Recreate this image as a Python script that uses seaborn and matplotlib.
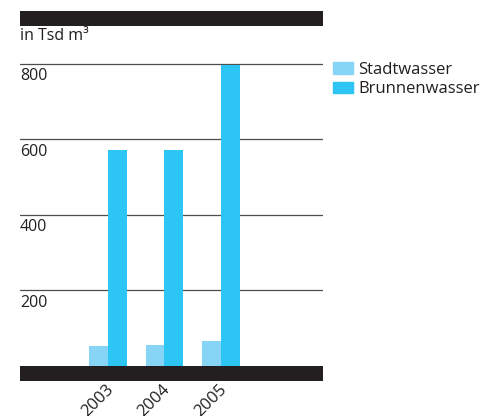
import pandas as pd
import seaborn as sns
import matplotlib.pyplot as plt
from matplotlib.patches import Rectangle
import matplotlib.transforms as mtransforms

# Data (in Tsd m3)
years = ['2003', '2004', '2005']
stadtwasser = [53, 56, 67]
brunnenwasser = [571, 571, 797]
series = ['Stadtwasser', 'Brunnenwasser']
yticks = [200, 400, 600, 800]

df = pd.DataFrame({
    'Jahr': years * 2,
    'Wert': stadtwasser + brunnenwasser,
    'Quelle': [series[0]] * 3 + [series[1]] * 3,
})

sns.set_style('white')
plt.rcParams['font.family'] = ['Open Sans', 'DejaVu Sans']
text_col = '#231f20'
colors = ['#86d5f6', '#2dc5f4']

fig = plt.figure(figsize=(4.95, 4.16), dpi=100)
ax = fig.add_axes([20 / 495, 1 - 366 / 416, 303 / 495, 340 / 416])

sns.barplot(data=df, x='Jahr', y='Wert', hue='Quelle', ax=ax,
            palette=colors, width=0.67, saturation=1,
            linewidth=0, legend=False)

ax.set_ylim(0, 900)
ax.set_xlim(-1.557, 3.805)
for s in ax.spines.values():
    s.set_visible(False)

# grid lines and labels below them
for v in yticks:
    ax.axhline(v, color='#4d4d4f', lw=0.9, zorder=0)
    ax.text(0, v - 12, str(v), transform=ax.get_yaxis_transform(),
            ha='left', va='top', fontsize=11.5, color=text_col)
ax.set_yticks([])
ax.set_ylabel('')
ax.set_xlabel('')

# thick black bars top and bottom
bar_h = 15 / 340
ax.add_patch(Rectangle((0, -bar_h), 1, bar_h, transform=ax.transAxes,
                       color=text_col, clip_on=False, lw=0))
ax.add_patch(Rectangle((0, 1), 1, bar_h, transform=ax.transAxes,
                       color=text_col, clip_on=False, lw=0))

fig.text(20 / 495, 1 - 36 / 416, 'in Tsd m³', ha='left', va='center',
         fontsize=11.5, color=text_col)

# rotated year labels
ax.tick_params(axis='x', length=0, pad=15.5, labelsize=12, colors=text_col)
ax.set_xticks(range(len(years)))
ax.set_xticklabels(years, rotation=45, ha='right', va='center',
                   rotation_mode='anchor')
offset = mtransforms.ScaledTranslation(3 / 100, 0, fig.dpi_scale_trans)
for lab in ax.get_xticklabels():
    lab.set_transform(lab.get_transform() + offset)

# legend
handles = [Rectangle((0, 0), 1, 1, color=c) for c in colors]
fig.legend(handles, series, loc='upper left',
           bbox_to_anchor=(333 / 495, 1 - 62 / 416), frameon=False,
           fontsize=12, handlelength=1.2, handleheight=0.7,
           handletextpad=0.3, labelspacing=0.2, borderpad=0,
           borderaxespad=0, labelcolor=text_col)

fig.savefig('out.png', dpi=100)
